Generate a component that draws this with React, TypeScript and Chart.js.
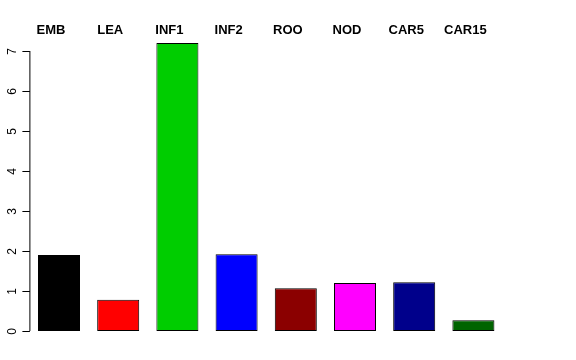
import React, { useEffect, useRef } from "react";
import { Chart, registerables } from "chart.js";

Chart.register(...registerables);

const categories = ["EMB", "LEA", "INF1", "INF2", "ROO", "NOD", "CAR5", "CAR15"];
const values = [1.9, 0.78, 7.2, 1.92, 1.07, 1.2, 1.22, 0.27];
const barColors = ["#000000", "#FF0000", "#00CD00", "#0000FF", "#8B0000", "#FF00FF", "#00008B", "#006400"];
const yTicks = [0, 1, 2, 3, 4, 5, 6, 7];

const rAxisPlugin = {
  id: "rAxis",
  afterDraw(chart: any) {
    const ctx = chart.ctx;
    const x = chart.scales.x;
    const y = chart.scales.y;
    const left = chart.chartArea.left;
    ctx.save();
    ctx.strokeStyle = "#000";
    ctx.lineWidth = 1;
    const y0 = y.getPixelForValue(yTicks[0]);
    const y1 = y.getPixelForValue(yTicks[yTicks.length - 1]);
    ctx.beginPath();
    ctx.moveTo(left + 0.5, y0);
    ctx.lineTo(left + 0.5, y1);
    ctx.stroke();
    ctx.fillStyle = "#000";
    ctx.font = "12px 'Liberation Sans', Arial, sans-serif";
    ctx.textAlign = "center";
    ctx.textBaseline = "middle";
    yTicks.forEach((t) => {
      const py = Math.round(y.getPixelForValue(t)) + 0.5;
      ctx.beginPath();
      ctx.moveTo(left - 7, py);
      ctx.lineTo(left + 0.5, py);
      ctx.stroke();
      ctx.save();
      ctx.translate(13, py);
      ctx.rotate(-Math.PI / 2);
      ctx.fillText(String(t), 0, 0);
      ctx.restore();
    });
    ctx.font = "bold 13px 'Liberation Sans', Arial, sans-serif";
    ctx.textBaseline = "alphabetic";
    categories.forEach((c, i) => {
      ctx.fillText(c, x.getPixelForValue(i) - 8, 34);
    });
    ctx.restore();
  },
};

export default function App() {
  const ref = useRef<HTMLCanvasElement>(null);
  useEffect(() => {
    if (!ref.current) return;
    const chart = new Chart(ref.current, {
      type: "bar",
      data: {
        labels: categories,
        datasets: [
          {
            data: values,
            backgroundColor: barColors,
            borderColor: "#000",
            borderWidth: 1,
            borderSkipped: false,
            barPercentage: 0.71,
            categoryPercentage: 1,
          },
        ],
      },
      options: {
        animation: false,
        responsive: false,
        layout: { padding: { left: 29.4, right: 73, top: 40, bottom: 29 } },
        plugins: { legend: { display: false }, tooltip: { enabled: false } },
        scales: {
          x: { display: false },
          y: { display: false, min: 0, max: 7.275 },
        },
      },
      plugins: [rAxisPlugin],
    });
    return () => chart.destroy();
  }, []);
  return (
    <div style={{ position: "absolute", left: 0, top: 0, width: 576, height: 360, background: "#fff" }}>
      <canvas ref={ref} width={576} height={360} />
    </div>
  );
}
